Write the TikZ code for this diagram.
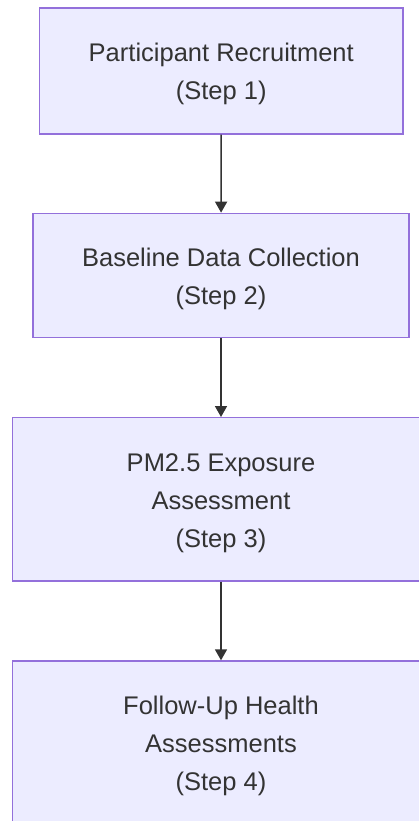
\documentclass[tikz,border=0pt]{standalone}
\usepackage{fontspec}
\setmainfont{Liberation Sans}
\usetikzlibrary{arrows.meta}

\definecolor{boxfill}{HTML}{ECECFF}
\definecolor{boxline}{HTML}{9370DB}
\definecolor{ink}{HTML}{333333}

% a little extra room above the first line of each box
\newcommand{\topstrut}{\rule{0pt}{25pt}}

\tikzset{
  stepbox/.style={draw=boxline, fill=boxfill, line width=1.3pt, text=ink,
    align=center, inner sep=0pt, font=\fontsize{25.5}{38}\selectfont},
  flow/.style={draw=ink, line width=1.6pt, -{Triangle[width=12pt,length=11pt]}}
}

\begin{document}
\begin{tikzpicture}[x=1pt,y=-1pt]
    \useasboundingbox (0,0) rectangle (418,821);

    % the four steps, top to bottom
    \node[stepbox, minimum width=363.5pt, minimum height=126pt] (recruit) at (221.25,71)
        {\topstrut Participant Recruitment\\(Step 1)};
    \node[stepbox, minimum width=376pt, minimum height=124.4pt] (baseline) at (221,275.5)
        {\topstrut Baseline Data Collection\\(Step 2)};
    \node[stepbox, minimum width=416.6pt, minimum height=163.3pt] (exposure) at (221,499.3)
        {\topstrut PM2.5 Exposure\\Assessment\\(Step 3)};
    \node[stepbox, minimum width=416.6pt, minimum height=163.3pt] (followup) at (221,742.6)
        {\topstrut Follow-Up Health\\Assessments\\(Step 4)};

    % arrows between the steps
    \draw[flow] (recruit) -- (baseline);
    \draw[flow] (baseline) -- (exposure);
    \draw[flow] (exposure) -- (followup);
\end{tikzpicture}
\end{document}
